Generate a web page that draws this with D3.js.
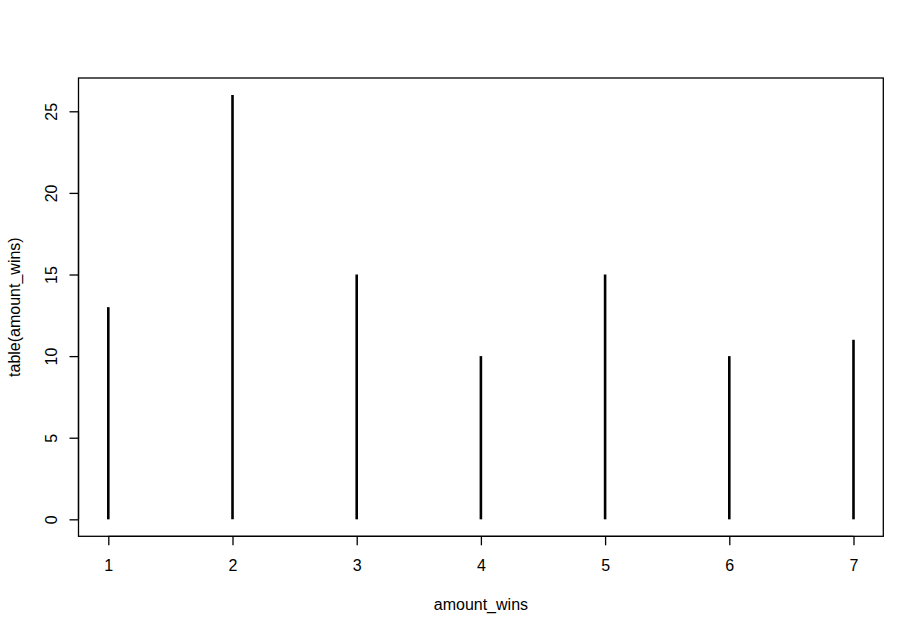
<!DOCTYPE html>
<html><head><meta charset="utf-8">
<script src="https://cdn.jsdelivr.net/npm/d3@7"></script>
<style>body{margin:0;background:#fff}svg{display:block}text{font-family:"Liberation Sans",Arial,sans-serif;fill:#000}</style>
</head><body>
<script>
const categories = [1, 2, 3, 4, 5, 6, 7];
const counts = [13, 26, 15, 10, 15, 10, 11];
const yTicks = [0, 5, 10, 15, 20, 25];
const xLabel = "amount_wins";
const yLabel = "table(amount_wins)";

const W = 924, H = 634;
const plot = {left: 78.5, right: 883.3, top: 78, bottom: 536.3};
const svg = d3.select("body").append("svg").attr("width", W).attr("height", H);

const xMin = d3.min(categories), xMax = d3.max(categories);
const xPad = (xMax - xMin) * 0.04;
const x = d3.scaleLinear().domain([xMin - xPad, xMax + xPad]).range([plot.left, plot.right]);
const yMaxV = d3.max(counts), yPad = yMaxV * 0.04;
const y = d3.scaleLinear().domain([-yPad, yMaxV + yPad]).range([plot.bottom, plot.top]);

// box
svg.append("rect").attr("x", plot.left).attr("y", plot.top)
  .attr("width", plot.right - plot.left).attr("height", plot.bottom - plot.top)
  .attr("fill", "none").attr("stroke", "#000").attr("stroke-width", 1.3);

// spikes
svg.selectAll("line.spike").data(categories).enter().append("line")
  .attr("class", "spike")
  .attr("x1", d => x(d)).attr("x2", d => x(d))
  .attr("y1", y(0)).attr("y2", (d, i) => y(counts[i]))
  .attr("stroke", "#000").attr("stroke-width", 2.6);

// x axis
const xAxis = d3.axisBottom(x).tickValues(categories).tickSize(9).tickPadding(14).tickFormat(d3.format("d"));
const gx = svg.append("g").attr("transform", `translate(0,${plot.bottom})`).call(xAxis);
gx.select(".domain").attr("d", `M${x(xMin)},0H${x(xMax)}`).attr("stroke", "#000").attr("stroke-width", 1.3);
gx.selectAll(".tick line").attr("stroke", "#000").attr("stroke-width", 1.3);
gx.selectAll(".tick text").attr("font-size", 16).attr("fill", "#000").style("font-family", '"Liberation Sans",Arial,sans-serif');

// y axis
const yAxis = d3.axisLeft(y).tickValues(yTicks).tickSize(9).tickFormat(d3.format("d"));
const gy = svg.append("g").attr("transform", `translate(${plot.left},0)`).call(yAxis);
gy.select(".domain").attr("d", `M0,${y(0)}V${y(25)}`).attr("stroke", "#000").attr("stroke-width", 1.3);
gy.selectAll(".tick line").attr("stroke", "#000").attr("stroke-width", 1.3);
gy.selectAll(".tick text")
  .attr("font-size", 16).attr("fill", "#000").style("font-family", '"Liberation Sans",Arial,sans-serif')
  .attr("x", null).attr("dy", null)
  .attr("text-anchor", "middle")
  .attr("transform", "translate(-22,0) rotate(-90)");

// titles
svg.append("text").attr("x", (plot.left + plot.right) / 2).attr("y", 610)
  .attr("text-anchor", "middle").attr("font-size", 16).text(xLabel);
svg.append("text").attr("transform", `translate(20,${(plot.top + plot.bottom) / 2}) rotate(-90)`)
  .attr("text-anchor", "middle").attr("font-size", 16).text(yLabel);
</script>
</body></html>
